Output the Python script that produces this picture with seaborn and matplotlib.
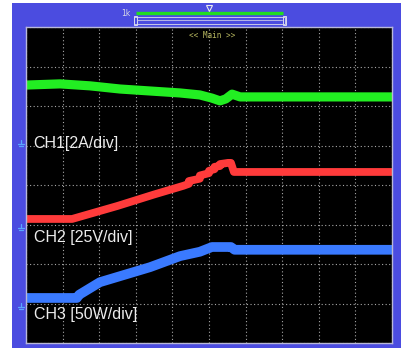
import numpy as np
import pandas as pd
import matplotlib
matplotlib.use("Agg")
import matplotlib.pyplot as plt
from matplotlib.patches import Rectangle
import seaborn as sns

sns.set_theme(style="dark")
plt.rcParams["font.family"] = ["Liberation Sans", "DejaVu Sans"]

# Time axis in screen divisions (10 horizontal), amplitude in divisions (8 vertical)
ch1_t = [0.0, 0.93, 1.75, 2.57, 3.39, 4.21, 4.75, 5.08, 5.30, 5.46, 5.63, 5.85, 10.0]
ch1_v = [6.53, 6.56, 6.51, 6.43, 6.38, 6.33, 6.28, 6.20, 6.13, 6.18, 6.30, 6.23, 6.23]

ch2_t = [0.0, 1.26, 2.5, 3.5, 4.3, 4.45, 4.45, 4.75, 4.75, 5.0, 5.0, 5.15, 5.15, 5.3, 5.3, 5.45,
         5.52, 5.60, 5.68, 10.0]
ch2_v = [3.14, 3.14, 3.47, 3.76, 3.98, 4.03, 4.10, 4.16, 4.24, 4.30, 4.36, 4.40, 4.46, 4.48, 4.53, 4.55,
         4.56, 4.56, 4.33, 4.33]

ch3_t = [0.0, 1.39, 1.45, 2.02, 3.39, 4.21, 4.75, 5.08, 5.6, 5.7, 10.0]
ch3_v = [1.14, 1.14, 1.22, 1.54, 1.92, 2.20, 2.31, 2.43, 2.43, 2.36, 2.36]

labels = ["CH1[2A/div]", "CH2 [25V/div]", "CH3 [50W/div]"]
label_pos = [(0.19, 5.04), (0.22, 2.66), (0.22, 0.71)]
colors = ["#22ee22", "#ff3b3b", "#3a7aff"]
widths = [6.6, 5.6, 7.0]

W, H = 401, 350
fig = plt.figure(figsize=(W / 100, H / 100), dpi=100)
fig.patch.set_facecolor("white")

# Frame / decorations drawn in pixel coordinates
bg = fig.add_axes([0, 0, 1, 1], zorder=0)
bg.set_xlim(0, W)
bg.set_ylim(H, 0)
bg.axis("off")
bg.add_patch(Rectangle((12, 3), W - 12, 345, facecolor="#4b4ce0", edgecolor="none"))
bg.text(126, 13.5, "1k", color="#d8d8e8", fontsize=5.5, ha="center", va="center", family="DejaVu Sans")
bg.plot([136, 283], [13, 13], color="#22dd22", lw=2.4, solid_capstyle="butt")
bg.plot([209], [7.5], marker="v", ms=4.5, mfc="none", mec="#e8e8f0", mew=0.8)
bg.add_patch(Rectangle((134, 17), 151, 6.5, facecolor="none", edgecolor="#c8c8e8", lw=0.7))
bg.plot([137, 282], [20, 20], color="#c8c8e8", lw=0.6)
for bx in (134, 282.5):
    bg.add_patch(Rectangle((bx, 16), 3, 8.5, facecolor="none", edgecolor="#d8d8f0", lw=0.7))
for gy in (144, 228, 307):
    bg.plot([18, 24], [gy, gy], color="#5aa8ff", lw=0.9)
    bg.plot([21, 21], [gy - 4, gy], color="#5aa8ff", lw=0.9)
    bg.plot([19.2, 22.8], [gy + 2, gy + 2], color="#5aa8ff", lw=0.9)

# Scope screen
ax = fig.add_axes([26 / W, (H - 343) / H, 366 / W, 316 / H], zorder=1)
ax.set_facecolor("black")
ax.set_xlim(0, 10)
ax.set_ylim(0, 8)
ax.set_xticks(np.arange(0, 11))
ax.set_yticks(np.arange(0, 9))
ax.tick_params(length=0, labelbottom=False, labelleft=False)
ax.grid(True, color="#a8a8a8", linestyle=(0, (1, 2.2)), linewidth=0.8)
for sp in ax.spines.values():
    sp.set_color("#b8b8d8")
    sp.set_linewidth(1.0)

for t, v, c, w in [(ch1_t, ch1_v, colors[0], widths[0]),
                   (ch2_t, ch2_v, colors[1], widths[1]),
                   (ch3_t, ch3_v, colors[2], widths[2])]:
    df = pd.DataFrame({"t": t, "v": v})
    sns.lineplot(data=df, x="t", y="v", ax=ax, color=c, lw=w, sort=False,
                 estimator=None, solid_joinstyle="round", solid_capstyle="butt")
ax.set_xlabel("")
ax.set_ylabel("")

for (lx, ly), lab in zip(label_pos, labels):
    ax.text(lx, ly, lab, color="#ececec", fontsize=11.5, ha="left", va="center")

ax.text(0.508, 0.988, "<< Main >>", transform=ax.transAxes, color="#b8b860",
        fontsize=5.5, ha="center", va="top", family="DejaVu Sans Mono")

fig.savefig("out.png", dpi=100, facecolor="white")
